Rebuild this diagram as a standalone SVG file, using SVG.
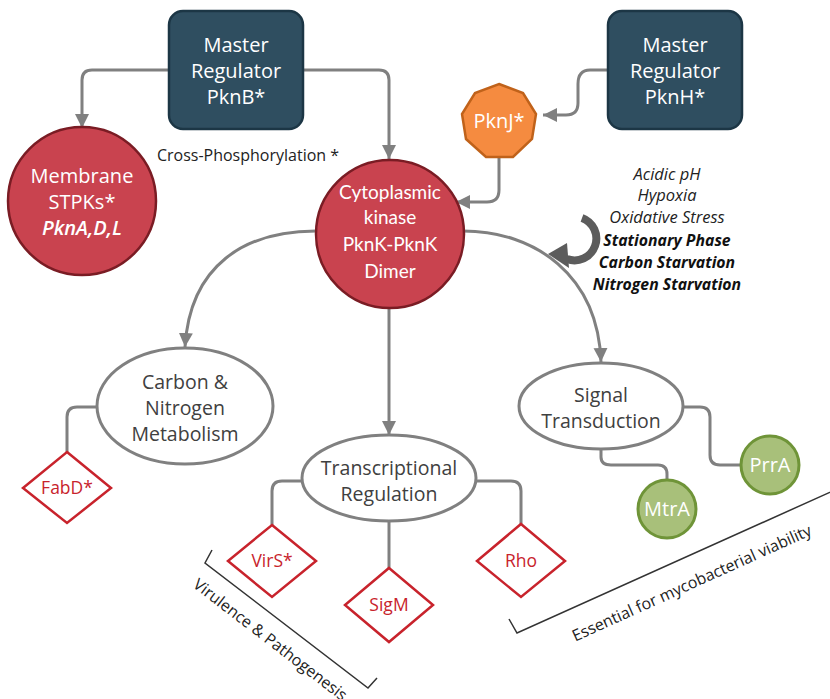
<svg xmlns="http://www.w3.org/2000/svg" width="830" height="699" viewBox="0 0 830 699">
<defs>
<marker id="ah" markerUnits="userSpaceOnUse" markerWidth="16" markerHeight="16" viewBox="0 0 16 16" refX="14" refY="8" orient="auto">
<path d="M0,1 L14,8 L0,15 Z" fill="#808080"/>
</marker>
<style>
.box{fill:#2f4e60;stroke:#1c3645;stroke-width:2.5}
.red{fill:#c9434f;stroke:#7a1c24;stroke-width:2.5}
.oval{fill:#fff;stroke:#808080;stroke-width:3}
.dia{fill:#fff;stroke:#c8232c;stroke-width:2.5}
.grn{fill:#a8c07a;stroke:#6f9438;stroke-width:3}
.con{fill:none;stroke:#808080;stroke-width:3}
.arr{fill:none;stroke:#808080;stroke-width:3;marker-end:url(#ah)}
.wt{font-family:"Open Sans","Noto Sans",sans-serif;font-size:20px;fill:#fff;text-anchor:middle}
.lt{font-family:Lato,"Open Sans",sans-serif;font-size:19px;fill:#fff;text-anchor:middle}
.gt{font-family:"Open Sans","Noto Sans",sans-serif;font-size:19.5px;fill:#404040;text-anchor:middle}
.rt{font-family:"Open Sans","Noto Sans",sans-serif;font-size:17.5px;fill:#c8232c;text-anchor:middle}
.kt{font-family:"Open Sans","Noto Sans",sans-serif;font-size:16px;fill:#222;text-anchor:middle}
.env{font-family:"Open Sans","Noto Sans",sans-serif;font-size:16.5px;fill:#222;text-anchor:middle;font-style:italic}
.envb{font-family:"Open Sans","Noto Sans",sans-serif;font-size:15.8px;fill:#111;text-anchor:middle;font-style:italic;font-weight:bold}
</style>
</defs>

<g id="connectors">
<path class="arr" d="M169,70 H92 Q82,70 82,80 V128"/>
<path class="arr" d="M303,70 H379 Q389,70 389,80 V159"/>
<path class="arr" d="M608,70 H590 Q578,70 578,84 V103 Q578,115 566,115 H543"/>
<path class="arr" d="M499,158 V190 Q499,202 487,202 H456"/>
<path class="arr" d="M316,231 C245,231 190,265 185,347"/>
<path class="arr" d="M463,231 C535,231 598,275 601,362"/>
<path class="arr" d="M389,308 V435"/>
<path class="con" d="M97,407 H77 Q67,407 67,417 V452"/>
<path class="con" d="M302,481 H282 Q272,481 272,491 V525"/>
<path class="con" d="M389,521 V568"/>
<path class="con" d="M477,481 H511 Q521,481 521,491 V524"/>
<path class="con" d="M683,407 H700 Q710,407 710,417 V455 Q710,465 720,465 H740"/>
<path class="con" d="M601,450 V457 Q601,465 611,465 H658 Q667,465 667,474 V479"/>
<path d="M582,218 A21 21 0 0 1 567,259" fill="none" stroke="#5c5c5c" stroke-width="8"/>
<path d="M548,254 L567,243 L569,268 Z" fill="#5c5c5c"/>
</g>

<g id="pknB">
<rect class="box" x="169" y="11" width="134" height="118" rx="14"/>
<text class="wt" x="236" y="52">Master</text>
<text class="wt" x="236" y="78">Regulator</text>
<text class="wt" x="236" y="104">PknB*</text>
</g>

<g id="pknH">
<rect class="box" x="608" y="11" width="134" height="118" rx="14"/>
<text class="wt" x="675" y="52">Master</text>
<text class="wt" x="675" y="78">Regulator</text>
<text class="wt" x="675" y="104">PknH*</text>
</g>

<g id="membrane">
<circle class="red" cx="82" cy="201" r="74"/>
<text class="wt" x="82" y="183" font-size="19.5">Membrane</text>
<text class="wt" x="82" y="209" font-size="19.5">STPKs*</text>
<text class="wt" x="82" y="235" font-size="19.5" font-style="italic" font-weight="600">PknA,D,L</text>
</g>

<g id="crossphos">
<text class="kt" x="248" y="161">Cross-Phosphorylation *</text>
</g>

<g id="pknJ">
<polygon points="499,84 523,93 536,114 532,139 513,157 486,157 466,139 462,114 475,93" fill="#f58b40" stroke="#c0621a" stroke-width="2.5"/>
<text class="wt" x="499" y="128">PknJ*</text>
</g>

<g id="cytoplasmic">
<circle class="red" cx="390" cy="234" r="74"/>
<text class="lt" x="390" y="199">Cytoplasmic</text>
<text class="lt" x="390" y="224">kinase</text>
<text class="lt" x="390" y="251">PknK-PknK</text>
<text class="lt" x="390" y="278">Dimer</text>
</g>

<g id="environment">
<text class="env" x="667" y="180">Acidic pH</text>
<text class="env" x="667" y="201">Hypoxia</text>
<text class="env" x="667" y="223">Oxidative Stress</text>
<text class="envb" x="667" y="246">Stationary Phase</text>
<text class="envb" x="667" y="268">Carbon Starvation</text>
<text class="envb" x="667" y="290">Nitrogen Starvation</text>
</g>

<g id="carbon">
<ellipse class="oval" cx="185" cy="406" rx="88" ry="58"/>
<text class="gt" x="185" y="389">Carbon &amp;</text>
<text class="gt" x="185" y="415">Nitrogen</text>
<text class="gt" x="185" y="441">Metabolism</text>
</g>

<g id="fabD">
<polygon class="dia" points="67,452 111,488 67,523 23,488"/>
<text class="rt" x="67" y="494">FabD*</text>
</g>

<g id="transcriptional">
<ellipse class="oval" cx="389" cy="478" rx="87" ry="43"/>
<text class="gt" x="389" y="475">Transcriptional</text>
<text class="gt" x="389" y="501">Regulation</text>
</g>

<g id="virS">
<polygon class="dia" points="272,525 316,561 272,597 228,561"/>
<text class="rt" x="272" y="567">VirS*</text>
</g>

<g id="sigM">
<polygon class="dia" points="389,568 433,605 389,642 345,605"/>
<text class="rt" x="389" y="611">SigM</text>
</g>

<g id="rho">
<polygon class="dia" points="521,524 565,561 521,597 477,561"/>
<text class="rt" x="521" y="567">Rho</text>
</g>

<g id="signal">
<ellipse class="oval" cx="601" cy="406" rx="82" ry="43"/>
<text class="gt" x="601" y="402">Signal</text>
<text class="gt" x="601" y="428">Transduction</text>
</g>

<g id="prrA">
<circle class="grn" cx="770" cy="465" r="29"/>
<text class="wt" x="770" y="472">PrrA</text>
</g>

<g id="mtrA">
<circle class="grn" cx="667" cy="509" r="29"/>
<text class="wt" x="667" y="516">MtrA</text>
</g>

<g id="virulence">
<path d="M212,550 L205,563 L368,688 L377,678" fill="none" stroke="#333" stroke-width="1.5"/>
<text class="kt" transform="translate(267,644) rotate(37.5)">Virulence &amp; Pathogenesis</text>
</g>

<g id="essential">
<path d="M509,619 L517,633 L835,490" fill="none" stroke="#333" stroke-width="1.5"/>
<text class="kt" transform="translate(694,588) rotate(-24.3)">Essential for mycobacterial viability</text>
</g>
</svg>
